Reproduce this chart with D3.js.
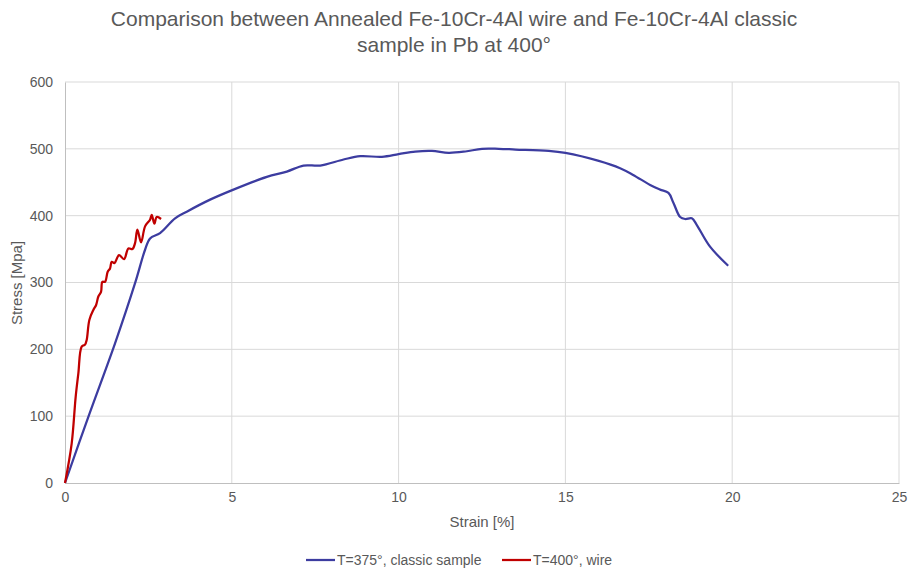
<!DOCTYPE html>
<html>
<head>
<meta charset="utf-8">
<script src="https://cdn.jsdelivr.net/npm/d3@7"></script>
<style>
  body { margin: 0; background: #fff; }
  text { font-family: "Liberation Sans", Arial, sans-serif; fill: #595959; }
</style>
</head>
<body>
<svg id="chart" width="909" height="573"></svg>
<script>
// data
var classicStrain = [0, 0.7, 1.5, 2.1, 2.4, 2.55, 2.85, 3.3, 3.65, 4.35, 5.05, 6.05, 6.65, 7.15, 7.65, 8.35, 8.85, 9.5, 10.0, 10.5, 11.0, 11.5, 12.0, 12.5, 13.0, 13.5, 14.5, 15.0, 16.0, 16.64, 17.03, 17.54, 17.84, 18.09, 18.24, 18.44, 18.59, 18.79, 18.94, 19.33, 19.88];
var classicStress = [0, 99, 209, 299, 349, 366, 374, 396, 406, 424, 439, 458, 466, 475, 475, 484, 489, 488, 492, 496, 497, 494, 496, 500, 500, 499, 497, 494, 482, 471, 461, 446, 439, 434, 419, 398, 395, 396, 386, 354, 325];

var wireStrain = [0, 0.2, 0.32, 0.4, 0.5, 0.6, 0.65, 0.73, 0.85, 0.93, 1.0, 1.08, 1.12, 1.2, 1.28, 1.35, 1.4, 1.48, 1.62, 1.77, 1.9, 2.02, 2.1, 2.17, 2.28, 2.4, 2.55, 2.6, 2.68, 2.75, 2.88];
var wireStress = [0, 59, 129, 164, 204, 207, 214, 244, 259, 266, 279, 286, 301, 301, 316, 321, 331, 329, 341, 335, 351, 350, 359, 379, 360, 384, 394, 401, 388, 398, 395];

var seriesNames = ["T=375°, classic sample", "T=400°, wire"];
var seriesColors = ["#3C3CA0", "#C00000"];
var xTicks = [0, 5, 10, 15, 20, 25];
var yTicks = [0, 100, 200, 300, 400, 500, 600];

var svg = d3.select("#chart");
var plotLeft = 65, plotRight = 899, plotTop = 82, plotBottom = 483;

var x = d3.scaleLinear().domain([0, 25]).range([plotLeft, plotRight]);
var y = d3.scaleLinear().domain([0, 600]).range([plotBottom, plotTop]);

// gridlines
svg.append("g").selectAll("line").data(yTicks.slice(1)).enter().append("line")
  .attr("x1", plotLeft).attr("x2", plotRight)
  .attr("y1", function(d) { return y(d); }).attr("y2", function(d) { return y(d); })
  .style("stroke", "#d9d9d9").style("stroke-width", 1);
svg.append("g").selectAll("line").data(xTicks.slice(1)).enter().append("line")
  .attr("y1", plotTop).attr("y2", plotBottom)
  .attr("x1", function(d) { return x(d); }).attr("x2", function(d) { return x(d); })
  .style("stroke", "#d9d9d9").style("stroke-width", 1);

// axes
var xAxis = svg.append("g").attr("transform", "translate(0," + plotBottom + ")")
  .call(d3.axisBottom(x).tickValues(xTicks).tickSize(0).tickPadding(9));
var yAxis = svg.append("g").attr("transform", "translate(" + plotLeft + ",0)")
  .call(d3.axisLeft(y).tickValues(yTicks).tickSize(0).tickPadding(12));
[xAxis, yAxis].forEach(function(a) {
  a.select(".domain").style("stroke", "#bfbfbf");
  a.selectAll("text").style("font-size", "14px").style("fill", "#595959")
    .style("font-family", "'Liberation Sans', Arial, sans-serif");
});

// lines
var line = d3.line()
  .x(function(d) { return x(d[0]); })
  .y(function(d) { return y(d[1]); })
  .curve(d3.curveCatmullRom.alpha(0.5));

var series = [d3.zip(classicStrain, classicStress), d3.zip(wireStrain, wireStress)];
series.forEach(function(s, i) {
  svg.append("path")
    .datum(s)
    .attr("d", line)
    .style("fill", "none")
    .style("stroke", seriesColors[i])
    .style("stroke-width", 2.25)
    .style("stroke-linejoin", "round");
});

// title
var title = svg.append("text").attr("text-anchor", "middle").style("font-size", "21px");
title.append("tspan").attr("x", 454).attr("y", 26).text("Comparison between Annealed Fe-10Cr-4Al wire and Fe-10Cr-4Al classic");
title.append("tspan").attr("x", 454).attr("y", 52).text("sample in Pb at 400°");

// axis titles
svg.append("text").attr("x", 482).attr("y", 527).attr("text-anchor", "middle")
  .style("font-size", "15px").text("Strain [%]");
svg.append("text").attr("transform", "translate(22,283) rotate(-90)").attr("text-anchor", "middle")
  .style("font-size", "15px").text("Stress [Mpa]");

// legend
var legendX = [306, 502];
seriesNames.forEach(function(name, i) {
  svg.append("line")
    .attr("x1", legendX[i]).attr("x2", legendX[i] + 29)
    .attr("y1", 560).attr("y2", 560)
    .style("stroke", seriesColors[i]).style("stroke-width", 2.25);
  svg.append("text")
    .attr("x", legendX[i] + 31).attr("y", 565)
    .style("font-size", "14px").text(name);
});
</script>
</body>
</html>
